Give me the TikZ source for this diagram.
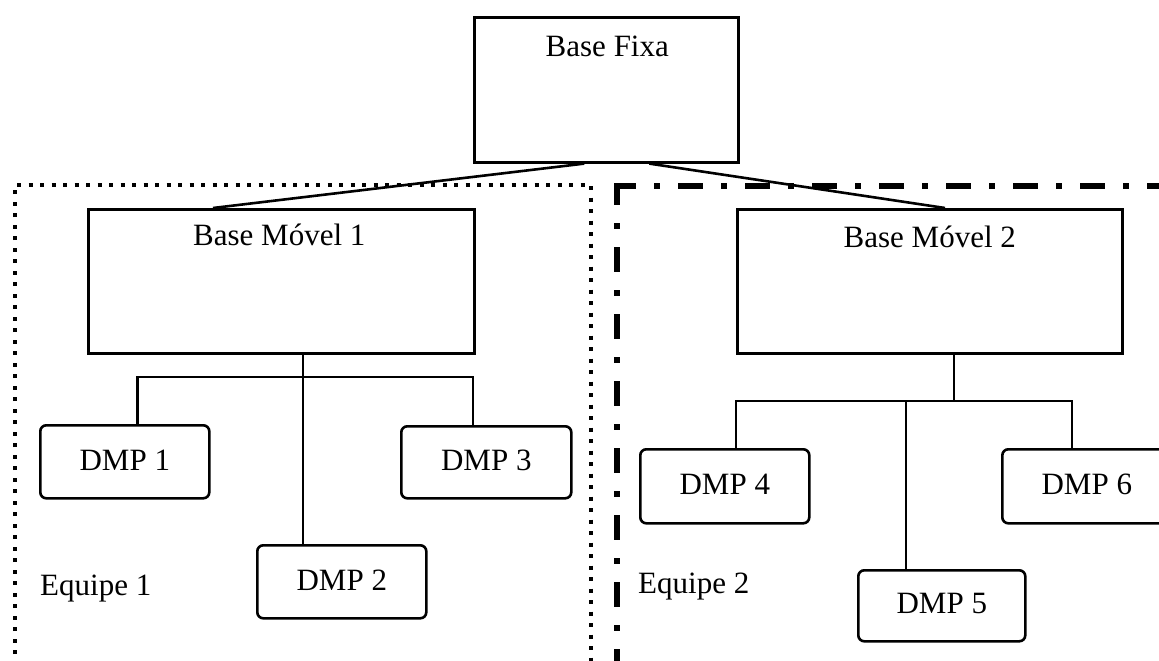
\documentclass[tikz,border=0pt]{standalone}
\usepackage{fontspec}
\setmainfont{Liberation Serif}
\usetikzlibrary{calc}
\begin{document}
\begin{tikzpicture}[x=1pt,y=-1pt,
  txt/.style={font=\fontsize{31}{36}\selectfont, inner sep=0},
  bigbox/.style={draw, line width=2.6, rectangle, anchor=north west, inner sep=0},
  dmpbox/.style={draw, line width=2.6, rectangle, rounded corners=6, anchor=north west, inner sep=0, font=\fontsize{31}{36}\selectfont, text depth=4},
  conn/.style={line width=2.6},
  team1/.style={line width=4, dash pattern=on 4 off 7.5},
  team2/.style={line width=6, dash pattern=on 25 off 18 on 6 off 18, dash phase=3}
]
\useasboundingbox (0,0) rectangle (1159,661);
% team borders
\coordinate (t1c) at (14.5,185);
\coordinate (t1r) at (591,185);
\draw[team1] (14.5,700) -- (t1c) -- (t1r) -- (591,700);
\coordinate (t2c) at (617,186);
\draw[team2] ($(t2c)+(0,-3)$) -- (617,700);
\draw[team2] ($(t2c)+(-3,0)$) -- (1200,186);
% boxes
\node[bigbox, minimum width=264, minimum height=145] (bf) at (473,16) {};
\node[bigbox, minimum width=386, minimum height=144] (bm1) at (87,208) {};
\node[bigbox, minimum width=385, minimum height=144] (bm2) at (736,208) {};
\node[txt, anchor=base] (bft) at ($(bf.north)+(1,41)$) {Base Fixa};
\node[txt, anchor=base] (bm1t) at ($(bm1.north)+(-2,37)$) {Base Móvel 1};
\node[txt, anchor=base] (bm2t) at ($(bm2.north)+(0,39)$) {Base Móvel 2};
\node[dmpbox, minimum width=169, minimum height=73] (d1) at (39,424) {DMP 1};
\node[dmpbox, minimum width=169, minimum height=73] (d2) at (256,544) {DMP 2};
\node[dmpbox, minimum width=170, minimum height=72] (d3) at (400,425) {DMP 3};
\node[dmpbox, minimum width=169, minimum height=74] (d4) at (639,448) {DMP 4};
\node[dmpbox, minimum width=167, minimum height=71] (d5) at (857,569) {DMP 5};
\node[dmpbox, minimum width=169, minimum height=74] (d6) at (1001,448) {DMP 6};
\node[txt, anchor=base west] (e1) at (40,595) {Equipe 1};
\node[txt, anchor=base west] (e2) at (638,593) {Equipe 2};
% connectors from Base Fixa
\draw[conn] ($(bf.south)+(-22,0)$) -- ($(bm1.north west)+(126,0)$);
\draw[conn] ($(bf.south)+(43,0)$) -- ($(bm2.north west)+(209,0)$);
% team 1 tree
\coordinate (j1) at (303,377);
\coordinate (b1l) at (137.5,377);
\coordinate (b1r) at (473,377);
\draw[conn] (bm1.south -| j1) -- (d2.north -| j1);
\draw[conn] (d1.north -| b1l) -- (b1l) -- (b1r) -- (d3.north -| b1r);
% team 2 tree
\coordinate (j2) at (954,401);
\coordinate (b2l) at (736,401);
\coordinate (b2r) at (1072,401);
\coordinate (b2m) at (906,401);
\draw[conn] (bm2.south -| j2) -- (j2);
\draw[conn] (d4.north -| b2l) -- (b2l) -- (b2r) -- (d6.north -| b2r);
\draw[conn] (b2m) -- (d5.north -| b2m);
\end{tikzpicture}
\end{document}
